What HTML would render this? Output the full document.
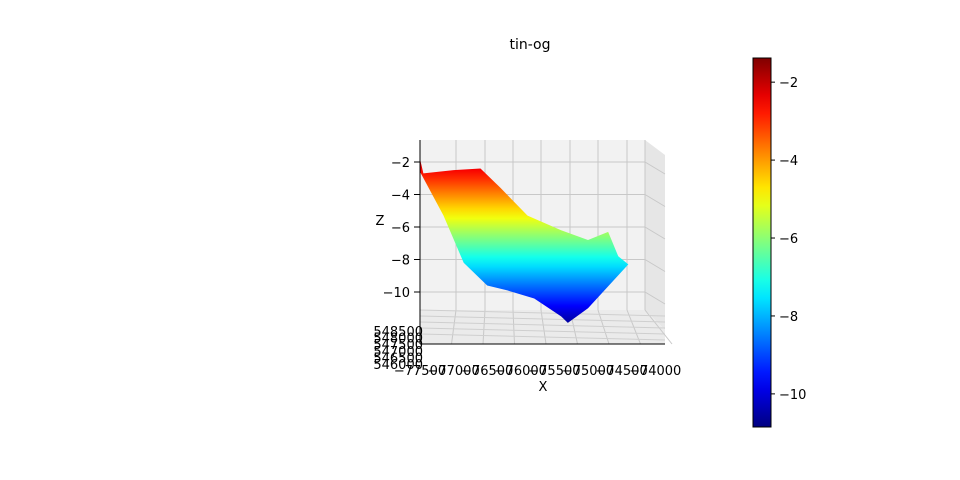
<!DOCTYPE html>
<html><head><meta charset="utf-8"><style>
body{margin:0;background:#fff}
svg{display:block;font-family:"DejaVu Sans","Liberation Sans",sans-serif}
</style></head><body>
<svg width="960" height="480" viewBox="0 0 960 480">
<defs id="defs"></defs>
<text x="530" y="49" text-anchor="middle" font-size="14">tin-og</text>
<g id="axes3d"></g>
<g id="cbar"></g>
</svg>
<script>
const xTicks=[-77500,-77000,-76500,-76000,-75500,-75000,-74500,-74000];
const yTicks=[548500,548000,547500,547000,546500,546000];
const zTicks=[-2,-4,-6,-8,-10];
const cbTicks=[-2,-4,-6,-8,-10];
const topX=[-77500,-77450,-77000,-76600,-76300,-75900,-75400,-75000,-74700,-74550,-74400];
const topZ=[-1.8,-2.7,-2.5,-2.4,-3.6,-5.3,-6.2,-6.8,-6.3,-7.8,-8.3];
const botX=[-77500,-77150,-76850,-76500,-76200,-75800,-75400,-75300,-75000,-74400];
const botZ=[-2.6,-5.3,-8.2,-9.6,-9.9,-10.4,-11.5,-11.9,-11.0,-8.3];
const zMin=-10.85,zMax=-1.38;
const NS="http://www.w3.org/2000/svg";
function mk(tag,attrs,parent){const e=document.createElementNS(NS,tag);for(const k in attrs)e.setAttribute(k,attrs[k]);parent.appendChild(e);return e;}
function px(x){return 420+(x+77500)/500*33.6;}
function pz(z){return 162+(-2-z)*16.25;}
function jet(t){t=Math.max(0,Math.min(1,t));
 const r=Math.max(0,Math.min(1,1.5-Math.abs(4*t-3))),g=Math.max(0,Math.min(1,1.5-Math.abs(4*t-2))),b=Math.max(0,Math.min(1,1.5-Math.abs(4*t-1)));
 return `rgb(${Math.round(r*255)},${Math.round(g*255)},${Math.round(b*255)})`;}
const ax=document.getElementById('axes3d'),defs=document.getElementById('defs'),cb=document.getElementById('cbar');
const back=mk('polygon',{points:'420,140 645,140 645,310 420,310',fill:'#f2f2f2'},ax);

const side=mk('polygon',{points:'645,140 665,155 665,330 645,310',fill:'#e6e6e6'},ax);

const floor=mk('polygon',{points:'420,310 645,310 665,330 665,344 420,344',fill:'#ebebeb'},ax);

const gx=[420,456,485,513,541,570,598,627,645];
gx.forEach((x,i)=>{const l=mk('line',{x1:x,y1:140,x2:x,y2:310,stroke:'#c8c8c8','stroke-width':1},ax);
 
 const f=mk('line',{x1:x,y1:310,x2:420+i*31.5,y2:344,stroke:'#c8c8c8','stroke-width':1},ax);
 });
zTicks.forEach(z=>{const y=pz(z);
 const l=mk('line',{x1:420,y1:y,x2:645,y2:y,stroke:'#c8c8c8'},ax);
 
 const s=mk('line',{x1:645,y1:y,x2:665,y2:y+12,stroke:'#c8c8c8'},ax);
 
 const t=mk('line',{x1:414,y1:y,x2:420,y2:y,stroke:'#000'},ax);
 
 const tx=mk('text',{x:410,y:y+5,'text-anchor':'end','font-size':13},ax);tx.textContent='\u2212'+Math.abs(z);
 });
[316,322,328,334,340].forEach(y=>{const l=mk('line',{x1:420,y1:y-6,x2:665,y2:y,stroke:'#cfcfcf'},ax);
 });
// colour follows z, but screen position compressed (perspective)
const gid='jetgrad';const lg=mk('linearGradient',{id:gid,gradientUnits:'userSpaceOnUse',x1:0,y1:150,x2:0,y2:345},defs);
for(let i=0;i<=20;i++){const y=150+195*i/20;const z=-2-(y-160)/19;mk('stop',{offset:i/20,'stop-color':jet((z-zMin)/(zMax-zMin))},lg);}
let pts=topX.map((x,i)=>px(x)+','+pz(topZ[i]));
for(let i=botX.length-1;i>=0;i--)pts.push(px(botX[i])+','+pz(botZ[i]));
const surf=mk('polygon',{points:pts.join(' '),fill:'url(#'+gid+')'},ax);

const zl=mk('line',{x1:420,y1:140,x2:420,y2:344,stroke:'#000'},ax);
const xl=mk('line',{x1:420,y1:344,x2:665,y2:344,stroke:'#000'},ax);
xTicks.forEach((v,i)=>{const x=420+i*33.6;
 const t=mk('text',{x:x,y:375,'text-anchor':'middle','font-size':13},ax);t.textContent='\u2212'+Math.abs(v);
 });
yTicks.forEach((v,i)=>{const y=336+i*6.6;
 const t=mk('text',{x:423,y:y,'text-anchor':'end','font-size':13},ax);t.textContent=v;
 });
const xlab=mk('text',{x:543,y:391,'text-anchor':'middle','font-size':13},ax);xlab.textContent='X';

const zlab=mk('text',{x:380,y:225,'text-anchor':'middle','font-size':13},ax);zlab.textContent='Z';

const cg=mk('linearGradient',{id:'cbg',x1:0,y1:0,x2:0,y2:1},defs);
for(let i=0;i<=20;i++)mk('stop',{offset:i/20,'stop-color':jet(1-i/20)},cg);
const cy=v=>58+(zMax-v)/(zMax-zMin)*369;
const cr=mk('rect',{x:753,y:58,width:18,height:369,fill:'url(#cbg)',stroke:'#000','stroke-width':1},cb);

cbTicks.forEach(v=>{const y=cy(v);
 const l=mk('line',{x1:771,y1:y,x2:775,y2:y,stroke:'#000'},cb);
 const t=mk('text',{x:779,y:y+5,'font-size':13},cb);t.textContent='\u2212'+Math.abs(v);
 });
</script>
</body></html>
